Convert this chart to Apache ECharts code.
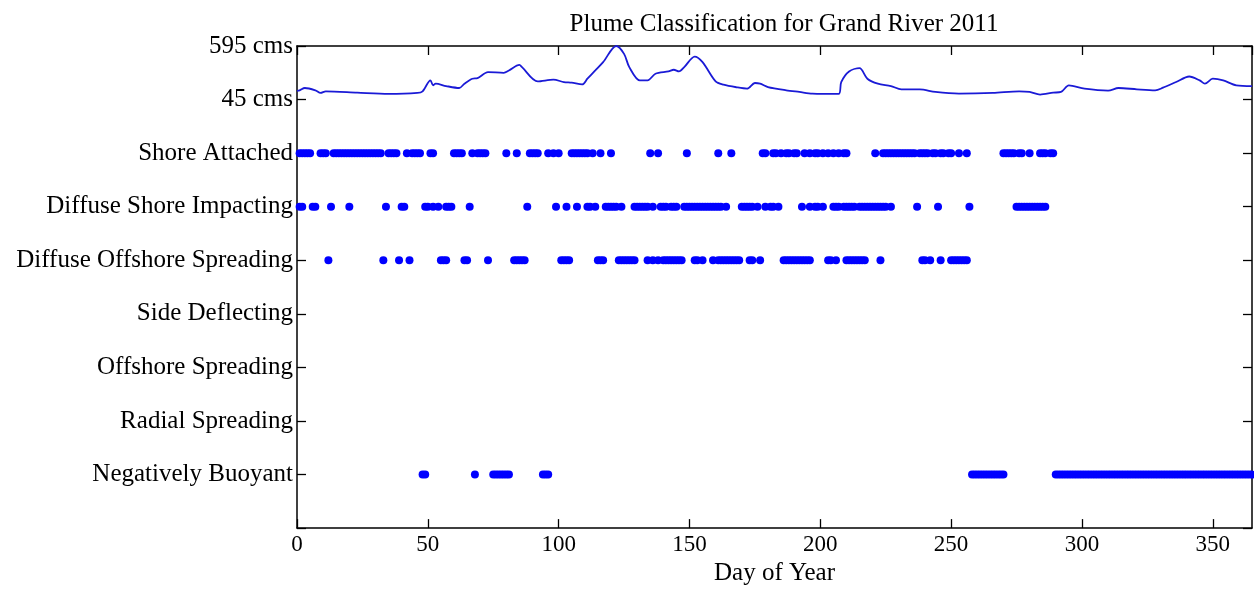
<!DOCTYPE html>
<html>
<head>
<meta charset="utf-8">
<script src="https://cdn.jsdelivr.net/npm/echarts@6/dist/echarts.min.js"></script>
<style>html,body{margin:0;padding:0;background:#fff}#c{width:1254px;height:591px}</style>
</head>
<body>
<div id="c"></div>
<script>
var title = 'Plume Classification for Grand River 2011';
var xTitle = 'Day of Year';
var yLabels = ['', 'Negatively Buoyant', 'Radial Spreading', 'Offshore Spreading', 'Side Deflecting',
  'Diffuse Offshore Spreading', 'Diffuse Shore Impacting', 'Shore Attached', '45 cms', '595 cms'];
var flowMin = 45, flowMax = 595;

var shoreAttached = [1,2,3,4,5,9,10,11,14,15,16,17,18,19,20,21,22,23,24,25,26,27,28,29,30,31,32,35,36,37,38,42,44,45,46,47,51,52,60,61,62,63,67,69,70,71,72,80,84,89,90,91,92,96,98,100,105,106,107,108,109,110,111,113,116,120,135,138,149,161,166,178,179,182,183,185,187,188,190,191,194,196,198,199,201,203,205,207,209,210,221,224,225,226,227,228,229,230,231,232,233,234,235,236,238,239,240,241,243,244,246,247,249,250,253,256,270,271,272,273,274,276,277,280,284,285,286,288,289];
var diffuseShoreImpacting = [1,2,6,7,13,20,34,40,41,49,50,52,54,57,58,59,66,88,99,103,107,111,112,114,118,119,120,121,122,124,129,130,131,132,133,134,136,139,140,141,143,144,145,148,149,150,151,152,153,154,155,156,157,158,159,160,161,162,164,170,171,172,173,174,176,179,181,182,184,193,196,198,199,201,205,206,207,209,210,211,212,213,215,216,217,218,219,220,221,222,223,224,225,227,237,245,257,275,276,277,278,279,280,281,282,283,284,285,286];
var diffuseOffshoreSpreading = [12,33,39,43,55,56,57,64,65,73,83,84,85,86,87,101,102,103,104,115,116,117,123,124,125,126,127,128,129,134,136,138,140,141,142,143,144,145,146,147,152,153,155,159,161,162,163,164,165,166,167,168,169,173,174,177,186,187,188,189,190,191,192,193,194,195,196,203,204,206,210,211,212,213,214,215,216,217,223,239,240,242,246,250,251,252,253,254,255,256];
var sideDeflecting = [];
var offshoreSpreading = [];
var radialSpreading = [];
var negativelyBuoyant = [48,49,68,75,76,77,78,79,80,81,94,95,96,258,259,260,261,262,263,264,265,266,267,268,269,270,290,291,292,293,294,295,296,297,298,299,300,301,302,303,304,305,306,307,308,309,310,311,312,313,314,315,316,317,318,319,320,321,322,323,324,325,326,327,328,329,330,331,332,333,334,335,336,337,338,339,340,341,342,343,344,345,346,347,348,349,350,351,352,353,354,355,356,357,358,359,360,361,362,363,364,365];

var flowDays = [0,1,3,7,9,11,23,35,46,48,51,52,53,57,62,64,67,69,73,79,81,85,86,92,98,102,105,109,111,114,117,122,125,127,131,134,137,142,144,146,148,152,155,160,163,168,172,175,177,180,187,192,197,207,208,211,215,218,222,227,231,238,244,253,266,276,280,284,289,292,295,301,310,314,321,328,331,336,341,345,347,350,354,359,365];
var flowCms = [135,140,164,140,113,130,116,103,113,130,242,191,208,184,164,208,259,265,327,320,344,401,378,231,249,225,218,201,259,344,429,595,514,378,242,242,310,334,351,334,378,486,429,231,198,171,157,215,208,174,140,123,106,103,225,334,367,259,208,184,150,150,123,106,113,130,123,96,116,123,191,157,137,164,150,140,167,225,282,242,208,259,242,191,184];

var rows = [
  [shoreAttached, 7], [diffuseShoreImpacting, 6], [diffuseOffshoreSpreading, 5],
  [sideDeflecting, 4], [offshoreSpreading, 3], [radialSpreading, 2], [negativelyBuoyant, 1]
];

var font = '"Liberation Serif", "DejaVu Serif", serif';
var series = rows.map(function (r) {
  return {
    type: 'scatter', xAxisIndex: 0, yAxisIndex: 0,
    symbol: 'circle', symbolSize: 8,
    itemStyle: { color: '#0000ff', opacity: 1 },
    data: r[0].map(function (d) { return [d, r[1]]; })
  };
});
series.push({
  type: 'line', xAxisIndex: 0, yAxisIndex: 0, showSymbol: false, smooth: 0.3,
  lineStyle: { color: '#1a1ad6', width: 1.8 },
  data: flowDays.map(function (d, i) {
    return [d, 8 + (flowCms[i] - flowMin) / (flowMax - flowMin)];
  })
});

function tick() { return { inside: true, length: 9, lineStyle: { color: '#000', width: 1.3 } }; }
function aline() { return { onZero: false, lineStyle: { color: '#000', width: 1.5 } }; }
var chart = echarts.init(document.getElementById('c'), null, { renderer: 'canvas' });
chart.setOption({
  animation: false,
  title: { text: title, left: 779, top: 7, textAlign: 'center',
    textStyle: { fontFamily: font, fontWeight: 'normal', fontSize: 25, color: '#000' } },
  grid: { left: 297, right: 2, top: 46, bottom: 56 },
  xAxis: [{
    type: 'value', min: 0, max: 365, interval: 50, position: 'bottom',
    name: xTitle, nameLocation: 'middle', nameGap: 32,
    nameTextStyle: { fontFamily: font, fontSize: 25, color: '#000' },
    axisLine: aline(), splitLine: { show: false }, axisTick: tick(),
    axisLabel: { fontFamily: font, fontSize: 23, color: '#000', margin: 5, showMaxLabel: false }
  }, {
    type: 'value', min: 0, max: 365, interval: 50, position: 'top',
    axisLine: aline(), splitLine: { show: false }, axisTick: tick(),
    axisLabel: { show: false }
  }],
  yAxis: [{
    type: 'value', min: 0, max: 9, interval: 1, position: 'left',
    axisLine: aline(), splitLine: { show: false }, axisTick: tick(),
    axisLabel: { fontFamily: font, fontSize: 25, color: '#000', margin: 4,
      formatter: function (v) { return yLabels[Math.round(v)] || ''; } }
  }, {
    type: 'value', min: 0, max: 9, interval: 1, position: 'right',
    axisLine: aline(), splitLine: { show: false }, axisTick: tick(),
    axisLabel: { show: false }
  }],
  series: series
});
</script>
</body>
</html>
